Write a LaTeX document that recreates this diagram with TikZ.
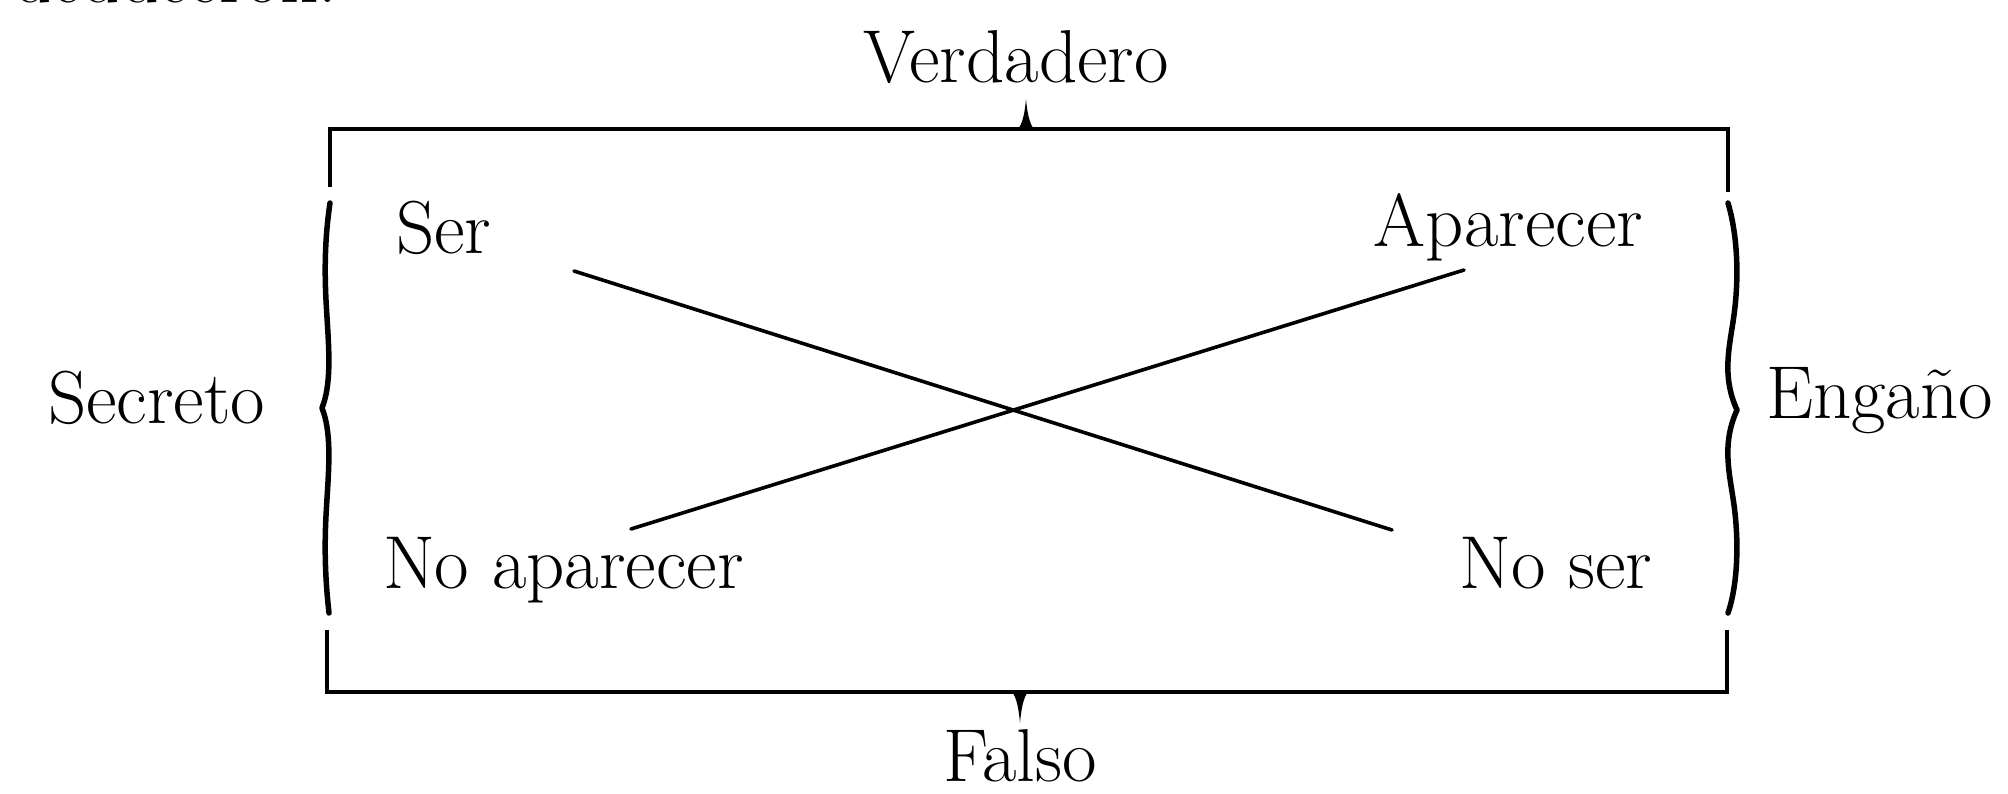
\documentclass[tikz,border=0pt]{standalone}
\usepackage{fontspec}
\begin{document}
\begin{tikzpicture}[x=1pt,y=-1pt,
  lbl/.style={inner sep=0pt,outer sep=0pt,font=\fontsize{75}{86}\selectfont},
  frame/.style={line width=4pt,line cap=butt,line join=miter},
  bracestroke/.style={line width=5.5pt,line cap=round,line join=round},
  cross/.style={line width=3.6pt,line cap=round},
  spike/.style={fill=black,draw=none}]
\useasboundingbox (0,0) rectangle (2008,793);
% texts
\node[lbl,anchor=base west] (top) at (13,2) {deduceron.};
\node[lbl,anchor=base] (verd) at (1016,82) {Verdadero};
\node[lbl,anchor=base] (falso) at (1020,781) {Falso};
\node[lbl,anchor=base west] (secreto) at (48,423) {Secreto};
\node[lbl,anchor=base west] (engano) at (1766,418) {Engaño};
\node[lbl,anchor=base west] (ser) at (396,253) {Ser};
\node[lbl,anchor=base east] (apar) at (1643,246) {Aparecer};
\node[lbl,anchor=base west] (noapar) at (383,588) {No aparecer};
\node[lbl,anchor=base east] (noser) at (1652,588) {No ser};
% frame corners
\draw[frame] (330,187) -- (330,129) -- (1728,129) -- (1728,192);
\draw[frame] (327,630) -- (327,692) -- (1727,692) -- (1727,630);
% braces
\draw[bracestroke] (330,203) .. controls (326,230) and (324,260) .. (326,300)
  .. controls (328,340) and (333,380) .. (322,408)
  .. controls (333,436) and (328,476) .. (326,516)
  .. controls (324,556) and (326,586) .. (329,613);
\draw[bracestroke] (1728,203) .. controls (1736,230) and (1740,270) .. (1734,315)
  .. controls (1730,345) and (1721,375) .. (1737,410)
  .. controls (1721,445) and (1730,475) .. (1734,505)
  .. controls (1740,550) and (1736,590) .. (1728,613);
% spikes
\coordinate (vt) at (1026,130);
\coordinate (fb) at (1020,691);
\fill[spike] (vt) ++(-9,0) .. controls +(6,-5) and +(-1,11) .. ++(9,-31)
  .. controls +(1,11) and +(-6,-5) .. ++(9,31) -- cycle;
\fill[spike] (fb) ++(-9,0) .. controls +(6,5) and +(-1,-11) .. ++(9,32)
  .. controls +(1,-11) and +(-6,5) .. ++(9,-32) -- cycle;
% cross
\coordinate (a1) at (574,271);
\coordinate (a2) at (1392,530);
\coordinate (b1) at (1464,270);
\coordinate (b2) at (631,529);
\draw[cross] (a1) -- (a2);
\draw[cross] (b1) -- (b2);
\end{tikzpicture}
\end{document}
